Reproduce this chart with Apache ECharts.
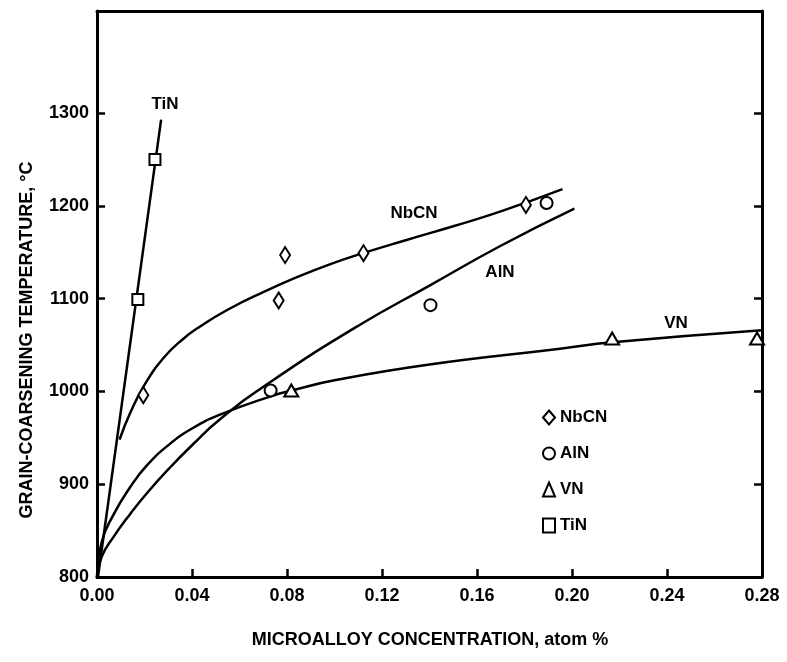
<!DOCTYPE html>
<html>
<head>
<meta charset="utf-8">
<script src="https://cdn.jsdelivr.net/npm/echarts@6/dist/echarts.min.js"></script>
<style>html,body{margin:0;padding:0;background:#fff}#c{width:787px;height:662px}</style>
</head>
<body>
<div id="c"></div>
<script>
// ---- data ----
const yLabelValues = [800, 900, 1000, 1100, 1200, 1300];
const yTickValues = [900, 1000, 1100, 1200, 1300];
const xTickValues = [0.04, 0.08, 0.12, 0.16, 0.20, 0.24];

const nbcnPoints = [[0.0195, 996], [0.0765, 1098], [0.0792, 1147], [0.1122, 1149], [0.1806, 1201]];
const alnPoints  = [[0.0731, 1001], [0.1404, 1093], [0.1893, 1203]];
const vnPoints   = [[0.0818, 1001], [0.2169, 1057], [0.2779, 1057]];
const tinPoints  = [[0.0172, 1099], [0.0244, 1250]];

const nbcnCurve = [[0.0095, 948], [0.014, 977], [0.02, 1007], [0.028, 1036], [0.036, 1056], [0.0434, 1070],
                   [0.055, 1088], [0.07, 1107], [0.085, 1124], [0.098, 1137], [0.112, 1149], [0.13, 1163],
                   [0.15, 1178], [0.17, 1194], [0.196, 1218]];
const alnCurve  = [[0, 800], [0.002, 822], [0.0069, 843], [0.014, 868], [0.0209, 890], [0.03, 916], [0.04, 942],
                   [0.0518, 970], [0.0735, 1011], [0.1095, 1070], [0.14, 1114], [0.17, 1157], [0.201, 1197]];
const vnCurve   = [[0, 800], [0.002, 838], [0.0069, 867], [0.014, 897], [0.0209, 920], [0.03, 942], [0.04, 960],
                   [0.0518, 975], [0.0735, 995], [0.082, 1001], [0.1, 1012], [0.14, 1029], [0.195, 1046],
                   [0.217, 1053], [0.28, 1066]];
const tinCurve  = [[0.0004, 800], [0.027, 1293]];

const seriesNames = ['NbCN', 'AlN', 'VN', 'TiN'];
const legendIcons = ['diamond', 'circle', 'triangle', 'rect'];

const FONT = '"Liberation Sans", Arial, Helvetica, sans-serif';
const chart = echarts.init(document.getElementById('c'), null, {renderer: 'canvas'});

function fitLine(data) {
  return {type: 'line', data: data, smooth: 0.5, showSymbol: false, silent: true, z: 2,
          lineStyle: {color: '#000', width: 2.5}, itemStyle: {color: '#000'}};
}
function pts(name, data, symbol, size) {
  return {type: 'scatter', name: name, data: data, symbol: symbol, symbolSize: size, z: 5,
          itemStyle: {color: '#fff', borderColor: '#000', borderWidth: 2, opacity: 1}};
}

const axisLine = {show: true, onZero: false, lineStyle: {color: '#000', width: 3}};

chart.setOption({
  animation: false,
  backgroundColor: '#fff',
  grid: {left: 97, right: 25, top: 11, bottom: 85, containLabel: false},
  xAxis: [
    {type: 'value', position: 'bottom', min: 0, max: 0.28, interval: 0.04,
     axisLine: axisLine, splitLine: {show: false},
     axisTick: {show: true, inside: true, length: 8, customValues: xTickValues, lineStyle: {color: '#000', width: 2.5}},
     axisLabel: {show: true, margin: 10, color: '#000', fontFamily: FONT, fontSize: 18, fontWeight: 'bold',
                 formatter: v => v.toFixed(2)}},
    {type: 'value', position: 'top', min: 0, max: 0.28, interval: 0.04,
     axisLine: axisLine, splitLine: {show: false}, axisTick: {show: false}, axisLabel: {show: false}}
  ],
  yAxis: [
    {type: 'value', position: 'left', min: 800, max: 1410, interval: 100,
     axisLine: axisLine, splitLine: {show: false},
     axisTick: {show: true, inside: true, length: 8, customValues: yTickValues, lineStyle: {color: '#000', width: 2.5}},
     axisLabel: {show: true, margin: 8, color: '#000', fontFamily: FONT, fontSize: 18, fontWeight: 'bold',
                 customValues: yLabelValues, formatter: v => String(v)}},
    {type: 'value', position: 'right', min: 800, max: 1410, interval: 100,
     axisLine: axisLine, splitLine: {show: false},
     axisTick: {show: true, inside: true, length: 8, customValues: yTickValues, lineStyle: {color: '#000', width: 2.5}},
     axisLabel: {show: false}}
  ],
  legend: {
    orient: 'vertical', left: 537, top: 404, itemGap: 19, itemWidth: 12, itemHeight: 14,
    data: seriesNames.map((n, i) => ({name: n, icon: legendIcons[i]})),
    itemStyle: {color: '#fff', borderColor: '#000', borderWidth: 2},
    textStyle: {color: '#000', fontFamily: FONT, fontSize: 17, fontWeight: 'bold'},
    selectedMode: false
  },
  graphic: [
    {type: 'text', x: 430, y: 640, silent: true,
     style: {text: 'MICROALLOY CONCENTRATION, atom %', fill: '#000', font: 'bold 18px ' + FONT,
             textAlign: 'center', textVerticalAlign: 'middle'}},
    {type: 'text', x: 27, y: 340, rotation: Math.PI / 2, silent: true,
     style: {text: 'GRAIN-COARSENING TEMPERATURE, °C', fill: '#000', font: 'bold 18px ' + FONT,
             textAlign: 'center', textVerticalAlign: 'middle'}},
    {type: 'text', x: 165, y: 104, silent: true,
     style: {text: 'TiN', fill: '#000', font: 'bold 17px ' + FONT, textAlign: 'center', textVerticalAlign: 'middle'}},
    {type: 'text', x: 414, y: 213, silent: true,
     style: {text: 'NbCN', fill: '#000', font: 'bold 17px ' + FONT, textAlign: 'center', textVerticalAlign: 'middle'}},
    {type: 'text', x: 500, y: 272, silent: true,
     style: {text: 'AlN', fill: '#000', font: 'bold 17px ' + FONT, textAlign: 'center', textVerticalAlign: 'middle'}},
    {type: 'text', x: 676, y: 323, silent: true,
     style: {text: 'VN', fill: '#000', font: 'bold 17px ' + FONT, textAlign: 'center', textVerticalAlign: 'middle'}}
  ],
  series: [
    fitLine(nbcnCurve), fitLine(alnCurve), fitLine(vnCurve), fitLine(tinCurve),
    pts('NbCN', nbcnPoints, 'diamond', [10, 16]),
    pts('AlN', alnPoints, 'circle', 12),
    pts('VN', vnPoints, 'triangle', [14, 12]),
    pts('TiN', tinPoints, 'rect', 11)
  ]
});
</script>
</body>
</html>
